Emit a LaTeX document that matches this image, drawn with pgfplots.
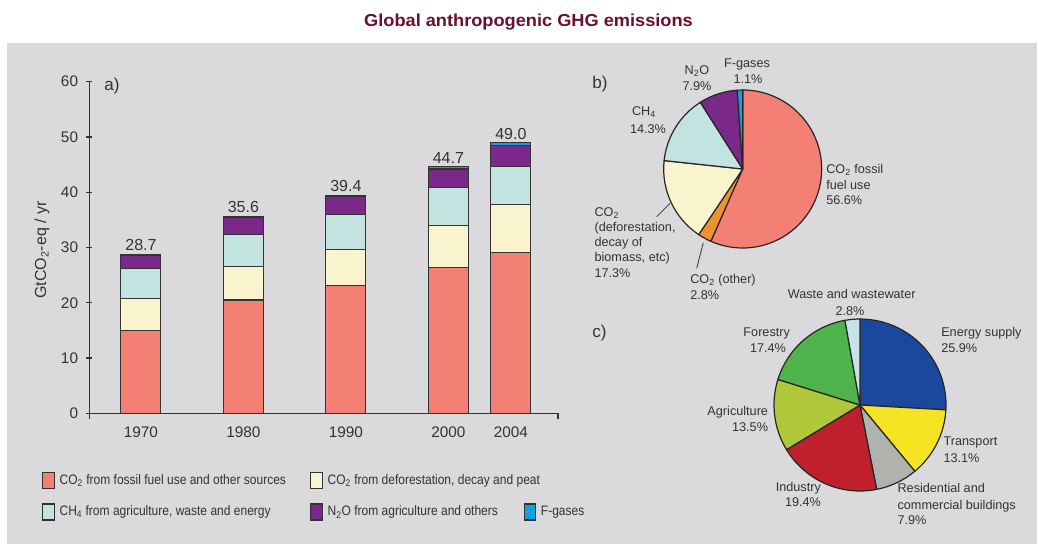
\documentclass[border=0pt]{standalone}
\usepackage{fontspec}
\setmainfont{Liberation Sans}
\newfontfamily\narrow{Liberation Sans}[FakeStretch=0.875]
\newfontfamily\titlefont{Liberation Sans}[FakeStretch=1.05]
\usepackage{pgfplots}
\pgfplotsset{compat=1.18}
\definecolor{bg}{HTML}{DADADC}
\definecolor{titlec}{HTML}{6B0F2E}
\definecolor{txt}{HTML}{333333}
\definecolor{edge}{HTML}{333333}
\definecolor{pieedge}{HTML}{262626}
\definecolor{cfoss}{HTML}{F47F74}
\definecolor{cdefo}{HTML}{FAF4CE}
\definecolor{cch}{HTML}{C2E3DF}
\definecolor{cno}{HTML}{7A288A}
\definecolor{cfgas}{HTML}{12A0DC}
\definecolor{cother}{HTML}{F0912F}
\definecolor{cenergy}{HTML}{1A489E}
\definecolor{ctrans}{HTML}{F5E423}
\definecolor{cres}{HTML}{B0B2AE}
\definecolor{cind}{HTML}{C0202D}
\definecolor{cagri}{HTML}{AFC739}
\definecolor{cfor}{HTML}{4DB34A}
\definecolor{cwaste}{HTML}{C6E2EA}
\newcommand\piesector[4]{\filldraw[fill=#3, draw=pieedge, line width=0.9pt, line join=round] (axis cs:0,0) -- ++({90-3.6*(#1)}:#4) arc[start angle={90-3.6*(#1)}, delta angle={-3.6*(#2)}, radius=#4] -- cycle;}
\pgfplotsset{legbox/.style={legend image code/.code={\draw[##1,line width=0.8pt] (0pt,-6pt) rectangle (8.7pt,6pt);}}}
\begin{document}
\begin{tikzpicture}[x=0.75pt,y=0.75pt]
\fill[white] (0,0) rectangle (1038,544);
\fill[bg] (7.3,0) rectangle (1036.7,501);
\node[font=\titlefont\fontsize{13}{15}\selectfont\bfseries, text=titlec, anchor=base, inner sep=0pt] at (528.5,517.3) {Global anthropogenic GHG emissions};
% a) bar chart
\begin{axis}[at={(66.975pt,98.025pt)}, anchor=south west, scale only axis,
  width=351.5pt, height=248.7pt,
  ybar stacked, bar width=30pt,
  xmin=-0.504, xmax=4.07, ymin=0, ymax=60,
  axis lines=left, axis line style={-, draw=edge, line width=1pt},
  xtick={0,1,2,3,3.61}, xticklabels={1970,1980,1990,2000,2004},
  ytick={0,10,...,60},
  xtick style={draw=none},
  ytick style={draw=edge, line width=0.9pt},
  extra x ticks={-0.504,4.07}, extra x tick labels={},
  extra x tick style={xtick style={draw=edge, line width=0.9pt}, tick align=outside, major tick length=4pt},
  major tick length=4.5pt, tick align=center,
  /pgf/number format/assume math mode=true,
  ticklabel style={font=\fontsize{11.5}{13}\selectfont, text=txt},
  yticklabel style={inner sep=0pt, xshift=-6pt},
  xticklabel style={inner sep=0pt, yshift=-8pt},
  clip=false,
  legend columns=3, legend cell align=left,
  legend style={at={(-0.1009,-0.177)}, anchor=north west, draw=none, fill=none, inner sep=0pt,
    font=\narrow\fontsize{10.3}{11.5}\selectfont, text=txt, nodes={inner sep=0pt},
    /tikz/every odd column/.append style={column sep=3.5pt}, row sep=10.6pt},
]
\addplot[fill=cfoss, draw=edge, line width=0.8pt, legbox] coordinates {(0,15.0) (1,20.5) (2,23.2) (3,26.3) (3.61,29.1)};
\addlegendentry{\makebox[188pt][l]{CO\textsubscript{2} from fossil fuel use and other sources}}
\addplot[fill=cdefo, draw=edge, line width=0.8pt, legbox] coordinates {(0,5.8) (1,6.1) (2,6.5) (3,7.7) (3.61,8.7)};
\addlegendentry{\makebox[147pt][l]{CO\textsubscript{2} from deforestation, decay and peat}}
\addlegendimage{empty legend}
\addlegendentry{}
\addplot[fill=cch, draw=edge, line width=0.8pt, legbox] coordinates {(0,5.4) (1,5.7) (2,6.3) (3,6.8) (3.61,6.9)};
\addlegendentry{\makebox[188pt][l]{CH\textsubscript{4} from agriculture, waste and energy}}
\addplot[fill=cno, draw=edge, line width=0.8pt, legbox] coordinates {(0,2.4) (1,3.2) (2,3.3) (3,3.4) (3.61,3.7)};
\addlegendentry{\makebox[147pt][l]{N\textsubscript{2}O from agriculture and others}}
\addplot[fill=cfgas, draw=edge, line width=0.8pt, legbox,
  nodes near coords, point meta=explicit symbolic,
  every node near coord/.append style={font=\fontsize{12}{14}\selectfont, text=txt, anchor=south, yshift=3pt, inner sep=0pt}]
  coordinates {(0,0.1) [28.7] (1,0.1) [35.6] (2,0.1) [39.4] (3,0.5) [44.7] (3.61,0.6) [49.0]};
\addlegendentry{F-gases}
\end{axis}
\node[font=\fontsize{12.8}{15}\selectfont, text=txt, anchor=mid west, inner sep=0pt] at (104,457) {a)};
\node[font=\fontsize{12}{14}\selectfont, text=txt, rotate=90] at (42,294) {GtCO\textsubscript{2}-eq / yr};
% b) pie
\begin{axis}[at={(557.0pt,281.25pt)}, anchor=center, scale only axis, width=118.5pt, height=118.5pt,
  xmin=-1, xmax=1, ymin=-1, ymax=1, hide axis, clip=false]
\piesector{0}{56.6}{cfoss}{59.25pt}
\piesector{56.6}{2.8}{cother}{59.25pt}
\piesector{59.4}{17.3}{cdefo}{59.25pt}
\piesector{76.7}{14.3}{cch}{59.25pt}
\piesector{91.0}{7.9}{cno}{59.25pt}
\piesector{98.9}{1.1}{cfgas}{59.25pt}
\end{axis}
\node[font=\fontsize{12.8}{15}\selectfont, text=txt, anchor=mid west, inner sep=0pt] at (592,459) {b)};
\begin{scope}[every node/.style={font=\fontsize{9.5}{11}\selectfont, text=txt, inner sep=0pt}]
\node[anchor=mid] at (697,473.3) {N\textsubscript{2}O};
\node[anchor=mid] at (697,456.7) {7.9\%};
\node[anchor=mid] at (747,480) {F-gases};
\node[anchor=mid] at (748,464) {1.1\%};
\node[anchor=mid] at (644,432.3) {CH\textsubscript{4}};
\node[anchor=mid] at (648,414) {14.3\%};
\node[anchor=mid west] at (826,374) {CO\textsubscript{2} fossil};
\node[anchor=mid west] at (826,358) {fuel use};
\node[anchor=mid west] at (826,343) {56.6\%};
\node[anchor=mid west] at (594.3,330.7) {CO\textsubscript{2}};
\node[anchor=mid west] at (594.3,315.7) {(deforestation,};
\node[anchor=mid west] at (594.3,301.3) {decay of};
\node[anchor=mid west] at (594.3,285.7) {biomass, etc)};
\node[anchor=mid west] at (594.3,270) {17.3\%};
\node[anchor=mid west] at (690,264) {CO\textsubscript{2} (other)};
\node[anchor=mid west] at (690,248) {2.8\%};
\end{scope}
\draw[draw=txt, line width=0.6pt] (656.7,327.3) -- (670,340.7);
\draw[draw=txt, line width=0.6pt] (696.7,275.7) -- (703.3,301.3);
% c) pie
\begin{axis}[at={(645pt,104.25pt)}, anchor=center, scale only axis, width=129pt, height=129pt,
  xmin=-1, xmax=1, ymin=-1, ymax=1, hide axis, clip=false]
\piesector{0}{25.9}{cenergy}{64.5pt}
\piesector{25.9}{13.1}{ctrans}{64.5pt}
\piesector{39.0}{7.9}{cres}{64.5pt}
\piesector{46.9}{19.4}{cind}{64.5pt}
\piesector{66.3}{13.5}{cagri}{64.5pt}
\piesector{79.8}{17.4}{cfor}{64.5pt}
\piesector{97.2}{2.8}{cwaste}{64.5pt}
\end{axis}
\node[font=\fontsize{12.8}{15}\selectfont, text=txt, anchor=mid west, inner sep=0pt] at (592,210.5) {c)};
\begin{scope}[every node/.style={font=\fontsize{9.5}{11}\selectfont, text=txt, inner sep=0pt}]
\node[anchor=mid] at (851.7,249) {Waste and wastewater};
\node[anchor=mid] at (850,232.3) {2.8\%};
\node[anchor=mid west] at (941,211) {Energy supply};
\node[anchor=mid west] at (941,195) {25.9\%};
\node[anchor=mid] at (766.7,211.3) {Forestry};
\node[anchor=mid] at (768,195) {17.4\%};
\node[anchor=mid east] at (768.3,131.7) {Agriculture};
\node[anchor=mid east] at (768.3,115.7) {13.5\%};
\node[anchor=mid west] at (943.3,101.7) {Transport};
\node[anchor=mid west] at (943.3,85) {13.1\%};
\node[anchor=mid] at (798.3,56.3) {Industry};
\node[anchor=mid] at (803,40.7) {19.4\%};
\node[anchor=mid west] at (897.3,55) {Residential and};
\node[anchor=mid west] at (897.3,38.3) {commercial buildings};
\node[anchor=mid west] at (897.3,23.3) {7.9\%};
\end{scope}
\end{tikzpicture}
\end{document}
